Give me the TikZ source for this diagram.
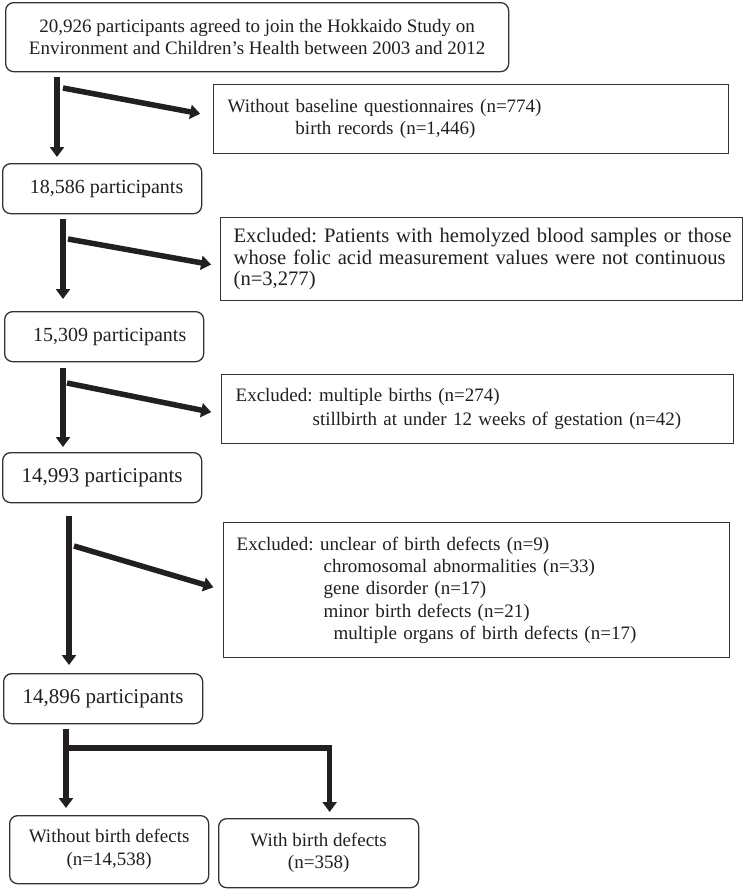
\documentclass[tikz,border=0pt]{standalone}
\usepackage{fontspec}
\setmainfont{Liberation Serif}
\usetikzlibrary{arrows.meta,calc}
\definecolor{ink}{HTML}{231F20}
\definecolor{edge}{HTML}{333333}
\frenchspacing
\begin{document}
\begin{tikzpicture}[x=1pt,y=-1pt,
  rbox/.style={draw=edge, line width=1.3pt, rounded corners=8pt, anchor=north west, inner sep=0pt, align=center, text=ink},
  sbox/.style={draw=edge, line width=1.3pt, anchor=north west, inner ysep=0pt, align=left, text=ink},
  flow/.style={draw=ink, line width=5.5pt, -{Triangle[length=10pt,width=14pt]}},
  fa/.style={font=\fontsize{19}{22}\selectfont},
  fb/.style={font=\fontsize{20}{23}\selectfont},
  fc/.style={font=\fontsize{20.6}{21.5}\selectfont},
  fd/.style={font=\fontsize{21}{23}\selectfont}]
\useasboundingbox[fill=white] (0,0) rectangle (744,889);

% boxes
\node[rbox, fa, minimum width=503pt, minimum height=69pt] (top) at (5,2)
  {20,926 participants agreed to join the Hokkaido Study on\\Environment and Children’s Health between 2003 and 2012};
\node[sbox, fa, minimum width=515pt, minimum height=69pt, inner xsep=14pt, text width=487pt] (ex1) at (213,84)
  {Without baseline questionnaires (n=774)\\\phantom{Without }birth records (n=1,446)};
\node[rbox, fb, minimum width=199pt, minimum height=50pt] (p1) at (2,163)
  {\hspace*{9pt}18,586 participants};
\node[sbox, fc, minimum width=522pt, minimum height=83pt, inner xsep=13pt, text width=496pt] (ex2) at (220,217)
  {\mbox{Excluded: Patients with hemolyzed blood samples or those}\\\mbox{whose folic acid measurement values were not continuous}\\(n=3,277)};
\node[rbox, fb, minimum width=199pt, minimum height=50pt] (p2) at (4,311)
  {\hspace*{11pt}15,309 participants};
\node[sbox, font=\fontsize{19}{24}\selectfont, minimum width=512pt, minimum height=69pt, inner xsep=14pt, text width=484pt] (ex3) at (221,374)
  {Excluded: multiple births (n=274)\\\hspace*{77pt}stillbirth at under 12 weeks of gestation (n=42)};
\node[rbox, fd, minimum width=199pt, minimum height=50pt] (p3) at (2,452)
  {14,993 participants};
\node[sbox, font=\fontsize{19}{22.25}\selectfont, minimum width=506pt, minimum height=135pt, inner xsep=13pt, text width=480pt] (ex4) at (223,522)
  {Excluded: unclear of birth defects (n=9)\\\hspace*{87pt}chromosomal abnormalities (n=33)\\\hspace*{87pt}gene disorder (n=17)\\\hspace*{87pt}minor birth defects (n=21)\\\hspace*{97pt}multiple organs of birth defects (n=17)};
\node[rbox, fd, minimum width=199pt, minimum height=50pt] (p4) at (3,673)
  {14,896 participants};
\node[rbox, font=\fontsize{19}{23}\selectfont, minimum width=199pt, minimum height=68pt] (no) at (9,815)
  {Without birth defects\\(n=14,538)};
\node[rbox, fa, minimum width=200pt, minimum height=69pt] (yes) at (218,818)
  {With birth defects\\(n=358)};

% vertical arrows
\coordinate (v1) at (57,0);
\coordinate (v2) at (63,0);
\coordinate (v3) at (63,0);
\coordinate (v4) at (69,0);
\coordinate (v5) at (66,0);
\draw[flow, shorten <=5pt, shorten >=6pt] (top.south -| v1) -- (p1.north -| v1);
\draw[flow, shorten <=5pt, shorten >=12pt] (p1.south -| v2) -- (p2.north -| v2);
\draw[flow, shorten <=6pt, shorten >=5pt] (p2.south -| v3) -- (p3.north -| v3);
\draw[flow, shorten <=13pt, shorten >=8pt] (p3.south -| v4) -- (p4.north -| v4);
\draw[flow, shorten <=5pt, shorten >=7pt] (p4.south -| v5) -- (no.north -| v5);

% diagonal arrows
\coordinate (d1) at (63,88);
\coordinate (d2) at (68,239);
\coordinate (d3) at (67,383);
\coordinate (d4) at (74,546);
\draw[flow, shorten >=13pt] (d1) -- ($(ex1.west)+(0,-3)$);
\draw[flow, shorten >=9pt] (d2) -- ($(ex2.west)+(0,7)$);
\draw[flow, shorten >=10pt] (d3) -- ($(ex3.west)+(0,5)$);
\draw[flow, shorten >=10pt] (d4) -- (ex4.west);

% split arrow
\coordinate (s1) at (64,748);
\draw[flow, shorten >=6pt] (s1) -| ($(yes.north)+(11,0)$);
\end{tikzpicture}
\end{document}
